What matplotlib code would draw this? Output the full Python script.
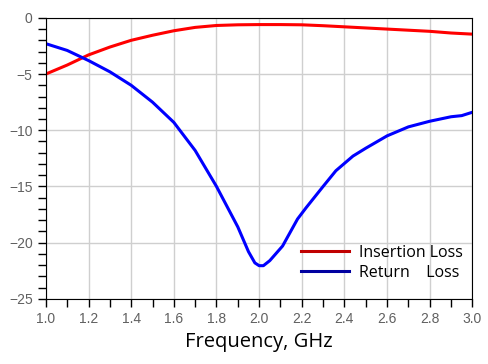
import matplotlib.pyplot as plt
from matplotlib.ticker import MultipleLocator

freq = [1.0, 1.1, 1.2, 1.3, 1.4, 1.5, 1.6, 1.7, 1.8, 1.9, 2.0, 2.1, 2.2, 2.3, 2.4, 2.5, 2.6, 2.7, 2.8, 2.9, 3.0]
insertion = [-5.0, -4.2, -3.3, -2.6, -2.0, -1.55, -1.15, -0.85, -0.68, -0.62, -0.6, -0.6, -0.62, -0.7, -0.8, -0.9, -1.0, -1.1, -1.2, -1.35, -1.45]

freq_rl = [1.0, 1.1, 1.2, 1.3, 1.4, 1.5, 1.6, 1.7, 1.8, 1.9, 1.95, 1.98, 2.0, 2.02, 2.05, 2.11, 2.18, 2.22, 2.3, 2.36, 2.44, 2.5, 2.6, 2.7, 2.8, 2.9, 2.95, 3.0]
ret_loss = [-2.3, -2.9, -3.8, -4.8, -6.0, -7.5, -9.3, -11.8, -15.0, -18.6, -20.8, -21.8, -22.05, -22.05, -21.6, -20.3, -17.9, -16.9, -15.0, -13.6, -12.3, -11.6, -10.5, -9.7, -9.2, -8.8, -8.7, -8.4]

fig = plt.figure(figsize=(4.88, 3.64), dpi=100)
ax = fig.add_axes([0.094, 0.179, 0.874, 0.772])

ax.plot(freq, insertion, color='#ff0000', lw=2.2, label='Insertion Loss')
ax.plot(freq_rl, ret_loss, color='#0000ff', lw=2.2, label='Return    Loss')

ax.set_xlim(1.0, 3.0)
ax.set_ylim(-25, 0)
ax.xaxis.set_major_locator(MultipleLocator(0.2))
ax.xaxis.set_minor_locator(MultipleLocator(0.1))
ax.yaxis.set_major_locator(MultipleLocator(5))
ax.yaxis.set_minor_locator(MultipleLocator(1))
ax.grid(True, which='major', color='#cfcfcf', lw=1)
ax.set_axisbelow(True)
ax.tick_params(which='major', length=6, width=1, labelsize=10, labelcolor='#606060')
ax.tick_params(which='minor', length=6, width=1)
for lab in ax.get_xticklabels() + ax.get_yticklabels():
    lab.set_family('Liberation Sans')
ax.set_xlabel('Frequency, GHz', fontsize=14.5, family='Open Sans', labelpad=4)

# legend sits in the lower right, no frame
leg = ax.legend(loc='lower right', bbox_to_anchor=(1.003, 0.025), frameon=False,
                prop={'family': 'Open Sans', 'size': 11.5},
                handlelength=3.0, handletextpad=0.6, labelspacing=0.25, borderaxespad=0.3)
leg.get_lines()[0].set_color('#c00000')
leg.get_lines()[1].set_color('#0000a0')

fig.savefig('out.png', dpi=100)
